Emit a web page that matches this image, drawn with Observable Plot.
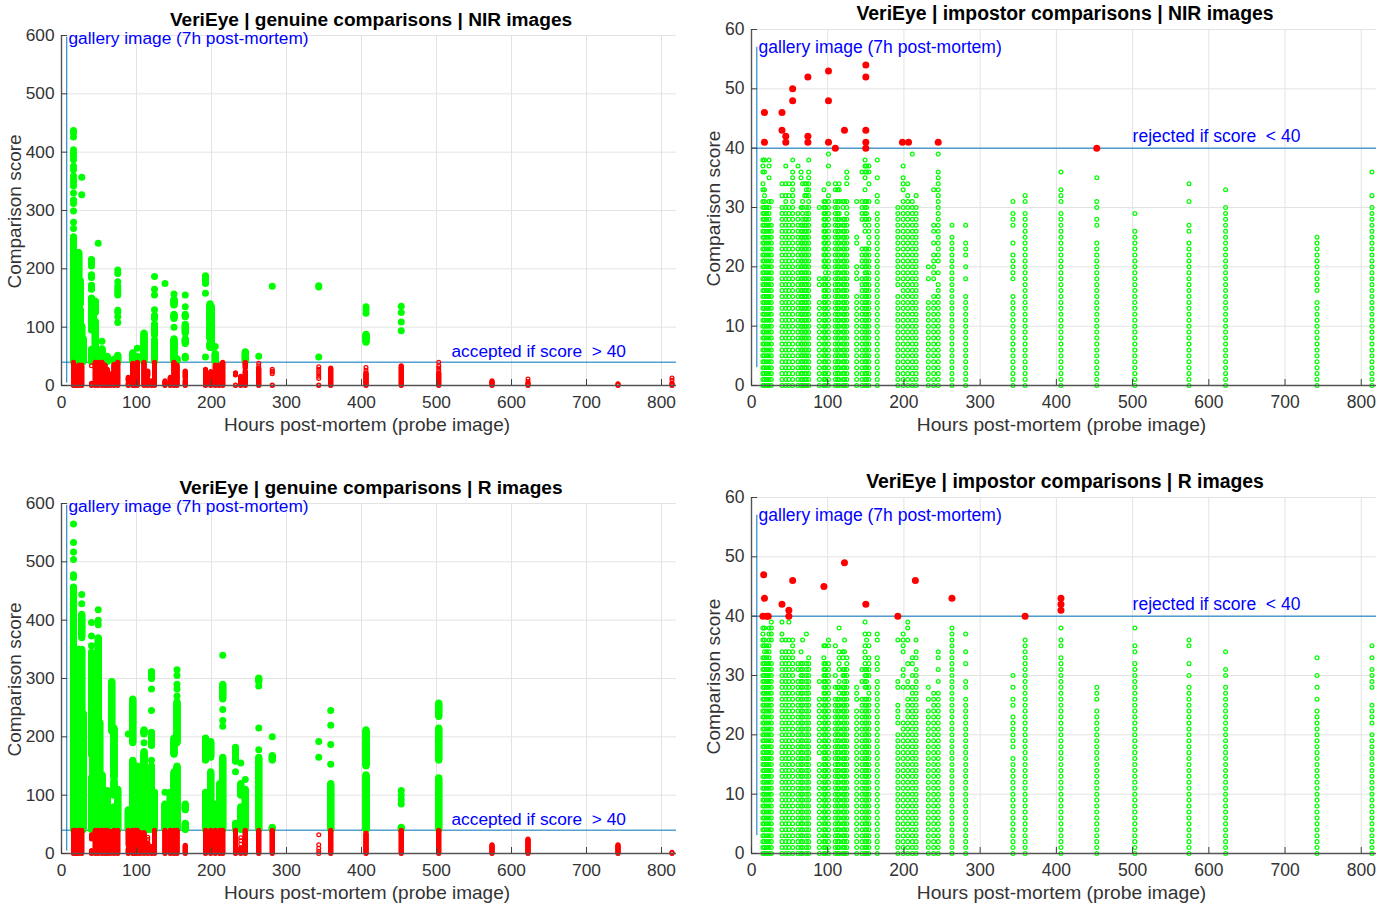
<!DOCTYPE html>
<html><head><meta charset="utf-8">
<script src="https://cdn.jsdelivr.net/npm/d3@7"></script>
<script src="https://cdn.jsdelivr.net/npm/@observablehq/plot@0.6"></script>
<style>
html,body{margin:0;padding:0;background:#fff}
#page{position:relative;width:1388px;height:905px;overflow:hidden}
#page svg{position:absolute}
</style></head><body><div id="page"></div>
<script>
const xTicks = [0,100,200,300,400,500,600,700,800];
const genuineTicks = [0,100,200,300,400,500,600];
const impostorTicks = [0,10,20,30,40,50,60];
const threshold = 40;

// Each row: hours post-mortem, then observed integer scores ("a-b" = an unbroken stack of scores).
const genuineNirGreen = [
[16,"41-255,269,280,299,312,318,330,342,348,353,359,370,376,387,393,398,404,426,433,437"],
[18,"41-205"],[20,"41-228"],[23,"41-228"],[25,"41-130,140-180"],
[27,"41-102,327,357"],[29,"41-80"],
[40,"41-62,95-120,125-150,165-172,185-190,205-216"],[42,"100-145"],[45,"41-110,125-145"],
[49,"41-48,244"],[54,"41-63,76"],[61,"41-50"],[70,"41-45"],
[75,"41-52,108,118,125,129,155,160,165,170,178,192,198"],
[95,"41-56"],[101,"41-50,64"],[110,"41-90"],
[124,"41-78,87-105,115-120,130,155,165,187"],[138,"175"],
[150,"41-80,100,115-122,138-148,157"],[154,"41-46"],
[165,"47-50,72-80,90-105,118-122,135,155"],
[192,"49,158,175-188"],[198,"65-72,80-140"],[200,"65-135"],[205,"41-55,67"],
[245,"41-58"],[263,"50"],[281,"170"],[343,"49,169,171"],
[406,"74-88,124,130,135"],[453,"94,109,125,136"]
];
const genuineNirRed = [
[16,"0-40"],[18,"0-34"],[20,"0-14,19-30"],[23,"0-35"],[27,"0-35"],
[40,"0-4,34"],[45,"0-40"],[49,"0-40"],[54,"0-40"],[58,"0-25,31-35"],[61,"0-14,20-28"],[65,"0-20"],[70,"0-36"],[75,"0-40"],
[89,"0-4,8-14"],[95,"0-38"],[98,"0-36"],[101,"0-40"],[110,"0-40"],[115,"0-10,16-25"],[120,"0-8"],[124,"0-40"],
[138,"0-8"],[145,"0-14"],[150,"0-40"],[154,"0-35"],[165,"0-9,13-25"],
[192,"0-28"],[199,"0-24"],[205,"0-35"],[210,"0-35"],[215,"0-40"],
[232,"0,1,18-22"],[239,"0-16"],[245,"0-25,30-40"],[263,"0-30,34,38"],[281,"0,1,20,23,25,28"],
[343,"0,1,12,16,20,24,28,32"],[359,"0-30"],
[406,"0-22,26,31"],[453,"0-34"],[503,"0-22,26,30,34,40"],[574,"0-8"],[622,"0-4,7,11"],[742,"0-3"],[814,"0-4,9,13"]
];
const genuineRGreen = [
[16,"41-457,473,478,504,517,533,565"],[18,"41-340"],[20,"41-350"],[23,"41-350"],[25,"41-250"],
[27,"41-350,370-410,428,444"],[29,"41-240"],
[40,"41-130,170-345,356,373,396"],[42,"41-200"],[45,"41-190"],[49,"41-370,392,400,418"],[51,"41-225"],[54,"41-135"],
[61,"41-108"],[67,"41-60,210-295"],[70,"41-80,100-125,130-215"],[75,"41-110"],
[89,"41-75,205"],[95,"41-160,190-265"],[101,"41-150"],[105,"41-70"],
[110,"41-175,190,205-212"],[115,"41-130"],[120,"41-150,160,185-208,245,282,300-312"],[124,"41-105"],
[138,"41-85,105"],[145,"41-105"],[150,"41-140,170-198"],[154,"41-150,190-260,270,282,290,305,315"],
[165,"41-52,75-85"],
[192,"41-105,160-198"],[199,"41-140,165-192"],[205,"41-85"],[211,"41-120"],[215,"41-165,218,228,247,265-290,340"],
[232,"41-52,140,158-182"],[239,"41-80,100-120,155"],[245,"41-110,127"],
[263,"41-165,178,215,287,295-301"],[281,"41-45,160-168,200"],[343,"165,192"],
[359,"41-120,153,187,220,245"],[406,"41-135,150-212"],[453,"41-45,85,92,100,108"],[503,"41-130,160-215,235-258"]
];
const genuineRRed = [
[16,"0-40"],[18,"0-40"],[20,"0-36"],[23,"0-40"],[27,"0-40"],
[40,"0-5,25-32"],[45,"0-40"],[49,"0-40"],[54,"0-40"],[58,"0-40"],[61,"0-40"],[65,"0-38"],[70,"0-40"],[75,"0-40"],
[89,"0-8,14-40"],[95,"0-40"],[98,"0-40"],[101,"0-40"],[105,"0-36"],
[110,"0-36"],[115,"0-18,24,28"],[120,"0-12"],[124,"0-40"],[138,"0-40"],[145,"0-40"],[150,"0-40"],[154,"0-40"],[165,"0-14"],
[192,"0-40"],[199,"0-40"],[205,"0-40"],[211,"0-40"],[215,"0-40"],
[232,"0-40"],[239,"0-10,16,22,27"],[245,"0-40"],[263,"0-40"],[281,"0-40"],
[343,"0,4,9,15,32"],[359,"0-40"],[406,"0-35"],[453,"0-40"],[503,"0-40"],[574,"0-15"],[622,"0-25"],[742,"0-15"],[814,"0-2"]
];
const impostorNirGreen = [
[15,"0-31,33,34,36,37,38"],[17,"0-33,36,38"],[20,"0-30"],[23,"0-31,35,37,38"],[26,"0-27,31"],
[40,"0-30,32,34"],[45,"0-32,34,37"],[49,"0-30,32,34"],[54,"0-36,38"],[61,"0-29,37"],[65,"0-27,30,35,36"],[67,"0-31,34"],[70,"0-28,32,34"],[72,"0-30,32-34"],[75,"0-36,38"],
[89,"0-14,17,18,30"],[95,"0-18,20-31,33"],[97,"0-31"],[101,"0-32,34,37,39"],
[110,"0-31,33,34"],[113,"0-31,33"],[115,"0-29,31,33,34"],[120,"0-28,30,31"],[122,"0-28,31"],[125,"0-31,34,35,36"],
[138,"0-15,18-20,24,25,31"],[145,"0-18,20-23,28-31,36"],[149,"0-23,26-31,33,35,36,37,38"],[151,"0-23,28-31,36,37"],[154,"0-28,31,34,36,37"],[165,"0-29,31,32,35,38"],
[192,"0-15,17-30"],[199,"0-31,33,34,35,37"],[205,"0-32,34"],[211,"0-31,39"],[216,"0-30,32"],
[232,"0-14,18,20"],[239,"0-15,18-22,24,26,27,33"],[245,"0-17,19,21-36,39"],
[263,"0-25,27"],[281,"0-15,18,20,22,23,24,27"],[343,"0-15,18-22,24,27,28,29,31"],[359,"0-29,31,32"],
[406,"0-29,31,32,33,36"],[453,"0-24,27,28,30,31,35"],[503,"0-26,29"],[574,"0-24,26,27,31,34"],[622,"0-30,33"],[742,"0-14,16-25"],[814,"0-30,32,36"]
];
const impostorNirRed = [
[17,"41,46"],[40,"43,46"],[45,"41,42"],[54,"48,50"],[74,"41,42,52"],[101,"41,48,53"],[110,"40"],[122,"43"],[150,"40,41,43,52,54"],[198,"41"],[206,"41"],[245,"41"],[453,"40"]
];
const impostorRGreen = [
[15,"0-33,35,36,37,38"],[17,"0-36,38"],[20,"0-34,35"],[23,"0-37,38"],[26,"0-32,36,37,38,39"],
[40,"0-34,36,37,39"],[45,"0-34,36"],[49,"0-34,36,39"],[54,"0-33,34,35,36"],[61,"0-29,31,32"],[65,"0-32,34"],[67,"0-32,36"],[72,"0-30,31,32,37"],[75,"0-33"],
[89,"0-15,17-26,29"],[95,"0-33,35"],[97,"0-32,35"],[101,"0-32,35,36"],
[110,"0-26,28,30,35"],[113,"0-26,28"],[115,"0-29,31-34,38"],[120,"0-28,30,31,33,34"],[122,"0-31,34,36"],[125,"0-33"],
[138,"0-24,26,27,28"],[145,"0-26,29,31"],[149,"0-26,28-35,37,39"],[151,"0-26,28-31,36"],[154,"0-28,30-33,35,37"],[165,"0-29,31,32,33,36,37"],
[192,"0-20,22-25,28,29,36"],[199,"0-22,28,30,31,34-37"],[205,"0-26,28,29,32,36,38,39"],[211,"0-28,30,32,33"],[216,"0-31,33,34,36"],
[232,"0-24,26,28"],[239,"0-27"],[245,"0-27,29,31,33,34"],[263,"0-36,37,38"],[281,"0-26,28,29,32,34,37"],
[343,"0-16,18-23,25,26,28,30"],[359,"0-36"],
[406,"0-33,35,36,38"],[453,"0-24,26,27,28"],[503,"0-32,34,35,38"],[574,"0-28,30,32,35,36"],[622,"0-28,30,31,34"],[742,"0-24,26,28,30,33"],[814,"0-20,22-25,28-31,33,35"]
];
const impostorRRed = [
[16,"47"],[17,"43"],[15,"40"],[20,"40"],[22,"40"],[40,"42"],[49,"40,41"],[54,"46"],[95,"45"],[122,"49"],[150,"42"],[192,"40"],[215,"46"],[263,"43"],[359,"40"],[406,"41,42,43"]
];

const titles = ["VeriEye | genuine comparisons | NIR images","VeriEye | impostor comparisons | NIR images","VeriEye | genuine comparisons | R images","VeriEye | impostor comparisons | R images"];
const xLabel = "Hours post-mortem (probe image)";
const yLabel = "Comparison score";
const galleryNote = "gallery image (7h post-mortem)";
const acceptNote = "accepted if score  > 40";
const rejectNote = "rejected if score  < 40";
const galleryHour = 7;

function expand(rows){
  const out=[];
  for(const [hour,spec] of rows) for(const part of spec.split(",")){
    const [a,b]=part.split("-").map(Number);
    for(let s=a;s<=(b===undefined?a:b);s++) out.push({hour,score:s});
  }
  return out;
}
const FONT = "'Liberation Sans',Arial,sans-serif";
function panel(o){
  const genuine=o.kind==="genuine";
  const yMax=genuine?600:60, ticks=genuine?genuineTicks:impostorTicks;
  const green=expand(o.green), red=expand(o.red);
  const k=genuine?1:1.012;
  const chart=Plot.plot({
    width:o.w,height:452,marginLeft:o.ml,marginRight:o.mr,marginTop:o.mt,marginBottom:67,
    x:{domain:[0,820]},y:{domain:[0,yMax]},
    style:{fontFamily:FONT,background:"transparent",overflow:"visible"},
    marks:[
      Plot.gridX(xTicks,{stroke:"#e3e3e3",strokeOpacity:1}),
      Plot.gridY(ticks,{stroke:"#e3e3e3",strokeOpacity:1}),
      Plot.ruleY([threshold],{stroke:"#0072BD",strokeWidth:1}),
      Plot.ruleX([galleryHour],{y1:genuine?4:3,y2:genuine?597:57,stroke:"#0072BD",strokeWidth:1}),
      genuine
        ? Plot.dot(green,{x:"hour",y:"score",r:3.5,fill:"#00ff00",stroke:"none"})
        : Plot.dot(green,{x:"hour",y:"score",r:1.9,stroke:"#00ff00",strokeWidth:1.25,fill:"none"}),
      genuine
        ? Plot.dot(red,{x:"hour",y:"score",r:1.9,stroke:"#ff0000",strokeWidth:1.25,fill:"none"})
        : Plot.dot(red,{x:"hour",y:"score",r:3.5,fill:"#ff0000",stroke:"none"}),
      Plot.ruleX([0],{stroke:"#555",strokeWidth:1.4}),
      Plot.ruleY([0],{stroke:"#555",strokeWidth:1.4}),
      Plot.axisX(xTicks,{tickSize:-6,tickPadding:16,stroke:"#404040",color:"#333",fontSize:17.3*k,tickFormat:d=>d,label:null,fontVariant:"normal"}),
      Plot.axisY(ticks,{tickSize:-6,tickPadding:13,stroke:"#404040",color:"#333",fontSize:17.3*k,tickFormat:d=>d,label:null,fontVariant:"normal"}),
      Plot.text([xLabel],{frameAnchor:"bottom",lineAnchor:"middle",text:d=>d,dy:39,dx:genuine?-2:-2.5,fill:"#333",fontSize:19*k}),
      Plot.text([yLabel],{frameAnchor:"left",lineAnchor:"middle",textAnchor:"middle",text:d=>d,rotate:-90,dx:genuine?-47:-38,dy:1,fill:"#333",fontSize:19*k}),
      Plot.text([galleryNote],{x:9.3,y:genuine?594.5:57,text:d=>d,textAnchor:"start",fill:"#0000ff",fontSize:17.3*k}),
      genuine
        ? Plot.text([acceptNote],{x:520,y:58,text:d=>d,textAnchor:"start",fill:"#0000ff",fontSize:17.3*k})
        : Plot.text([rejectNote],{x:500,y:42,text:d=>d,textAnchor:"start",fill:"#0000ff",fontSize:17.3*k}),
      Plot.text([o.title],{frameAnchor:"top",text:d=>d,dy:-23,dx:genuine?2:1,fontWeight:"bold",fontSize:genuine?19.1:19.4,fill:"#000"})
    ]
  });
  chart.style.left=o.left+"px"; chart.style.top=o.top+"px";
  return chart;
}
const page=document.getElementById("page");
page.append(
  panel({kind:"genuine",title:titles[0],green:genuineNirGreen,red:genuineNirRed,left:0,top:0,w:694,ml:61,mr:18,mt:35}),
  panel({kind:"impostor",title:titles[1],green:impostorNirGreen,red:impostorNirRed,left:694,top:0,w:694,ml:57,mr:12,mt:29}),
  panel({kind:"genuine",title:titles[2],green:genuineRGreen,red:genuineRRed,left:0,top:468,w:694,ml:61,mr:18,mt:35}),
  panel({kind:"impostor",title:titles[3],green:impostorRGreen,red:impostorRRed,left:694,top:468,w:694,ml:57,mr:12,mt:29})
);
</script></body></html>
